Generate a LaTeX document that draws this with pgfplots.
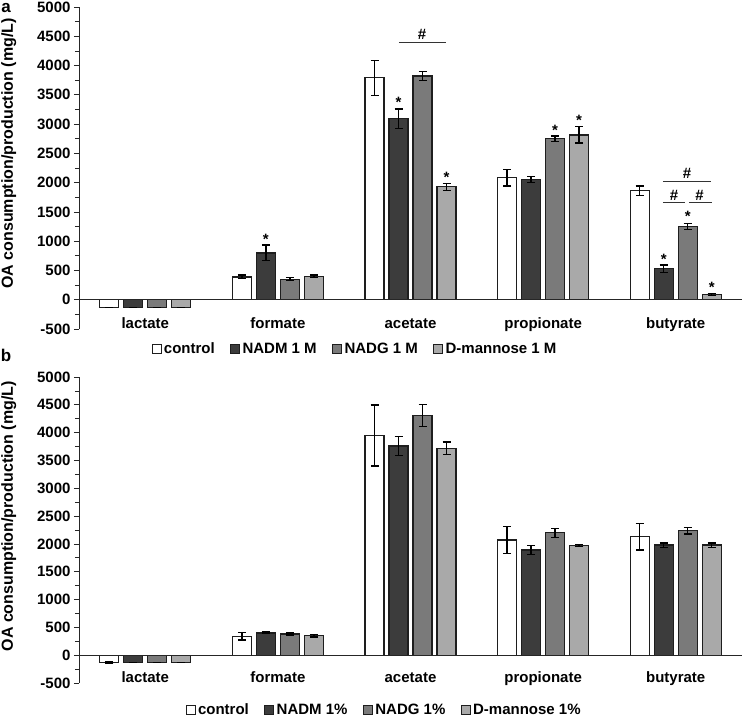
\documentclass[border=0pt]{standalone}
\usepackage{pgfplots}
\pgfplotsset{compat=1.18}
\usepackage{fontspec}
\setmainfont{Liberation Sans}

\definecolor{cNADM}{HTML}{3C3C3C}
\definecolor{cNADG}{HTML}{7A7A7A}
\definecolor{cMan}{HTML}{A9A9A9}
\definecolor{edge}{HTML}{1E1E1E}
\newcommand\ff{\fontsize{15bp}{18bp}\selectfont\bfseries}
\tikzset{sig/.style={font=\ff, yshift=-3bp}}

\pgfplotsset{
  oa/.style={
    scale only axis, width=663bp,
    xmin=-0.5, xmax=4.5, ymin=-500, ymax=5000,
    axis y line*=left, axis x line*=bottom,
    x axis line style={draw=none},
    xtick={0,...,4},
    xticklabels={lactate,formate,acetate,propionate,butyrate},
    major x tick style={draw=none},
    x tick label style={anchor=base, yshift=6bp},
    ytick={-500,0,500,...,5000},
    yticklabels={-500,0,500,1000,1500,2000,2500,3000,3500,4000,4500,5000},
    minor y tick num=1,
    tick align=outside, major tick length=5bp, minor tick length=4bp,
    y axis line style={black!85, line width=0.8bp},
    every tick/.style={black!85, line width=0.8bp},
    tick label style={font=\ff},
    ylabel={OA consumption/production (mg/L)},
    ylabel style={font=\fontsize{16bp}{18bp}\selectfont\bfseries,
      at={(axis description cs:-0.106,0.545)}, anchor=center},
    ybar=5bp, bar width=19bp,
    area legend,
    legend image code/.code={\draw[#1, draw=edge, line width=0.8bp] (0bp,-4.5bp) rectangle (9bp,4.5bp);},
    legend columns=-1,
    legend style={draw=none, fill=none, font=\ff, anchor=center,
      nodes={inner sep=1.5bp},
      /tikz/every odd column/.append style={column sep=1bp},
      /tikz/every even column/.append style={column sep=14bp}},
  },
  eb/.style={draw=edge, line width=1.3bp,
    error bars/y dir=both, error bars/y explicit,
    error bars/error bar style={black, line width=1.4bp},
    error bars/error mark options={rotate=90, mark size=4bp, line width=1.4bp, black}},
}

\begin{document}
\begin{tikzpicture}
\path[use as bounding box] (0,0) rectangle (749bp,-722bp);
\node[inner sep=0pt, font=\fontsize{17bp}{18bp}\selectfont\bfseries] at (6bp,-8bp) {a};
\node[inner sep=0pt, font=\fontsize{17bp}{18bp}\selectfont\bfseries] at (6bp,-355bp) {b};

% panel a
\begin{axis}[oa, height=322bp, at={(79bp,-7bp)}, anchor=north west,
  legend style={at={(0.416,-0.062)}}]
\addplot[eb, fill=white] coordinates {(0,-135) +- (0,0) (1,390) +- (0,30) (2,3790) +- (0,300) (3,2085) +- (0,140) (4,1865) +- (0,80)};
\addplot[eb, fill=cNADM] coordinates {(0,-135) +- (0,0) (1,800) +- (0,135) (2,3090) +- (0,170) (3,2050) +- (0,50) (4,530) +- (0,60)};
\addplot[eb, fill=cNADG] coordinates {(0,-135) +- (0,0) (1,350) +- (0,25) (2,3820) +- (0,75) (3,2750) +- (0,50) (4,1250) +- (0,50)};
\addplot[eb, fill=cMan] coordinates {(0,-135) +- (0,0) (1,400) +- (0,20) (2,1930) +- (0,60) (3,2815) +- (0,140) (4,90) +- (0,15)};
\legend{control, NADM 1 M, NADG 1 M, D-mannose 1 M}
\draw[black!85, line width=0.8bp] (axis cs:-0.5,0) -- (axis cs:4.5,0);
\node[sig] at (axis cs:0.9095,1090) {*};
\node[sig] at (axis cs:1.9095,3430) {*};
\node[sig] at (axis cs:2.2715,2150) {*};
\node[sig] at (axis cs:3.0905,2940) {*};
\node[sig] at (axis cs:3.2715,3120) {*};
\node[sig] at (axis cs:3.9095,735) {*};
\node[sig] at (axis cs:4.0905,1470) {*};
\node[sig] at (axis cs:4.2715,255) {*};
\draw[black!80, line width=0.8bp] (axis cs:1.913,4400) -- (axis cs:2.268,4400);
\node[font=\ff] at (axis cs:2.087,4540) {\#};
\draw[black!80, line width=0.8bp] (axis cs:3.904,2015) -- (axis cs:4.266,2015);
\node[font=\ff] at (axis cs:4.085,2150) {\#};
\draw[black!80, line width=0.8bp] (axis cs:3.904,1660) -- (axis cs:4.07,1660);
\draw[black!80, line width=0.8bp] (axis cs:4.10,1660) -- (axis cs:4.27,1660);
\node[font=\ff] at (axis cs:3.987,1790) {\#};
\node[font=\ff] at (axis cs:4.18,1790) {\#};
\end{axis}

% panel b
\begin{axis}[oa, height=306bp, at={(79bp,-377bp)}, anchor=north west,
  legend style={at={(0.46,-0.088)}}]
\addplot[eb, fill=white] coordinates {(0,-130) +- (0,10) (1,340) +- (0,65) (2,3950) +- (0,550) (3,2070) +- (0,240) (4,2130) +- (0,240)};
\addplot[eb, fill=cNADM] coordinates {(0,-130) +- (0,0) (1,400) +- (0,15) (2,3760) +- (0,170) (3,1890) +- (0,80) (4,1980) +- (0,40)};
\addplot[eb, fill=cNADG] coordinates {(0,-130) +- (0,0) (1,380) +- (0,20) (2,4310) +- (0,200) (3,2200) +- (0,80) (4,2240) +- (0,60)};
\addplot[eb, fill=cMan] coordinates {(0,-130) +- (0,0) (1,350) +- (0,25) (2,3720) +- (0,110) (3,1970) +- (0,20) (4,1980) +- (0,40)};
\legend{control, NADM 1\%, NADG 1\%, D-mannose 1\%}
\draw[black!85, line width=0.8bp] (axis cs:-0.5,0) -- (axis cs:4.5,0);
\end{axis}
\end{tikzpicture}
\end{document}
